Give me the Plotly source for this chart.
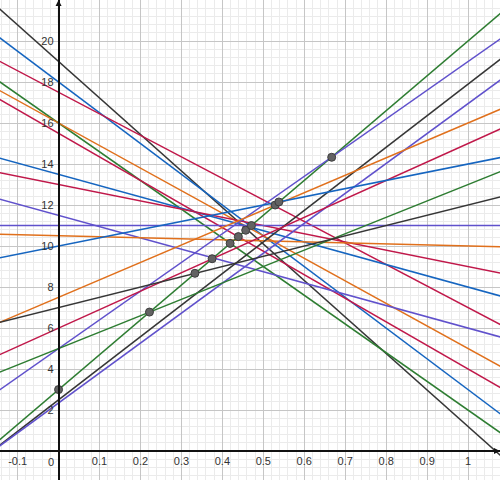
import plotly.graph_objects as go

# lines y = intercept + slope * x
intercepts = [19, 18, 17.5, 16, 16, 15.5, 13.5, 13, 11.5, 10.5, 11,
              3, 5, 2.5, 2.35, 7.5, 6, 10, 5, 7]
slopes = [-17.8, -15, -10.5, -14, -11, -11.5, -5.5, -4, -5.5, -0.5, 0,
          17, 14, 15.4, 14.6, 8.5, 9, 4, 8, 5]
line_names = ["f", "g", "h", "p", "q", "r", "s", "t", "u", "v", "w",
              "a", "b", "c", "d", "e", "k", "l", "m", "n"]

# marked points (on the steep green line)
point_x = [0, 0.222, 0.333, 0.375, 0.419, 0.439, 0.457, 0.471, 0.529, 0.538, 0.667]
point_y = [3, 6.78, 8.67, 9.38, 10.13, 10.46, 10.77, 11.0, 12.0, 12.15, 14.33]

x_ticks = [-0.1, 0.1, 0.2, 0.3, 0.4, 0.5, 0.6, 0.7, 0.8, 0.9, 1]
y_ticks = [2, 4, 6, 8, 10, 12, 14, 16, 18, 20]

BLACK = "#363636"
BLUE = "#1565c0"
RED = "#c0184a"
GREEN = "#2e7d32"
PURPLE = "#6051cc"
ORANGE = "#e0701c"
colors = [BLACK, BLUE, RED, GREEN, ORANGE, RED, BLUE, RED, PURPLE, ORANGE, PURPLE,
          GREEN, PURPLE, BLACK, PURPLE, ORANGE, RED, BLUE, GREEN, BLACK]

X_MIN, X_MAX = -0.143, 1.078
Y_MIN, Y_MAX = -1.41, 22.0

fig = go.Figure()

for a, b, c, n in zip(intercepts, slopes, colors, line_names):
    xs = [-0.5, 1.5]
    fig.add_scatter(x=xs, y=[a + b * v for v in xs], mode="lines",
                    line=dict(color=c, width=1.5), name=n, hoverinfo="skip")

fig.add_scatter(x=point_x, y=point_y, mode="markers",
                marker=dict(size=8, color="#626262", line=dict(color="#3d3d3d", width=1)),
                name="points", hoverinfo="skip")

fig["layout"]["width"] = 500
fig["layout"]["height"] = 480
fig.update_layout(margin=dict(l=0, r=0, t=0, b=0, autoexpand=False), showlegend=False,
                  paper_bgcolor="#ffffff", plot_bgcolor="#ffffff",
                  font=dict(family="Liberation Sans, Arial, sans-serif", size=11, color="#333333"))

fig.update_xaxes(range=[X_MIN, X_MAX], anchor="free", automargin=False,
                 position=(0 - Y_MIN) / (Y_MAX - Y_MIN),
                 tickmode="array", tickvals=x_ticks, ticktext=[str(v) for v in x_ticks],
                 showgrid=True, gridcolor="#c6c6c6", gridwidth=1,
                 minor=dict(tick0=0, dtick=0.02, showgrid=True, gridcolor="#ebebeb", gridwidth=1),
                 zeroline=False, showline=True, linecolor="#111111", linewidth=1.5,
                 ticks="", ticklabelstandoff=0, tickfont=dict(size=11, color="#333333"))
fig.update_yaxes(range=[Y_MIN, Y_MAX], anchor="free", automargin=False,
                 position=(0 - X_MIN) / (X_MAX - X_MIN),
                 tickmode="array", tickvals=y_ticks, ticktext=[str(v) for v in y_ticks],
                 showgrid=True, gridcolor="#c6c6c6", gridwidth=1,
                 minor=dict(tick0=0, dtick=0.4, showgrid=True, gridcolor="#ebebeb", gridwidth=1),
                 zeroline=False, showline=True, linecolor="#111111", linewidth=1.5,
                 ticks="", ticklabelstandoff=2, tickfont=dict(size=11, color="#333333"))

# origin label and axis arrows
fig.add_annotation(x=0, y=0, text="0", showarrow=False, xanchor="right", yanchor="top",
                   xshift=-3, yshift=-3, font=dict(size=11, color="#333333"))
fig.add_annotation(x=0, y=Y_MAX, ax=0, ay=Y_MAX - 1.2, xref="x", yref="y", axref="x", ayref="y",
                   showarrow=True, arrowhead=2, arrowsize=1, arrowwidth=1.2,
                   arrowcolor="#111111", text="")
fig.add_annotation(x=X_MAX, y=0, ax=X_MAX - 0.05, ay=0, xref="x", yref="y", axref="x", ayref="y",
                   showarrow=True, arrowhead=2, arrowsize=1, arrowwidth=1.2,
                   arrowcolor="#111111", text="")

# the page body has a default 8px margin; drop it so the chart fills the window
fig.write_html("out.html", config={"displayModeBar": False},
               post_script="document.body.style.margin='0';")
